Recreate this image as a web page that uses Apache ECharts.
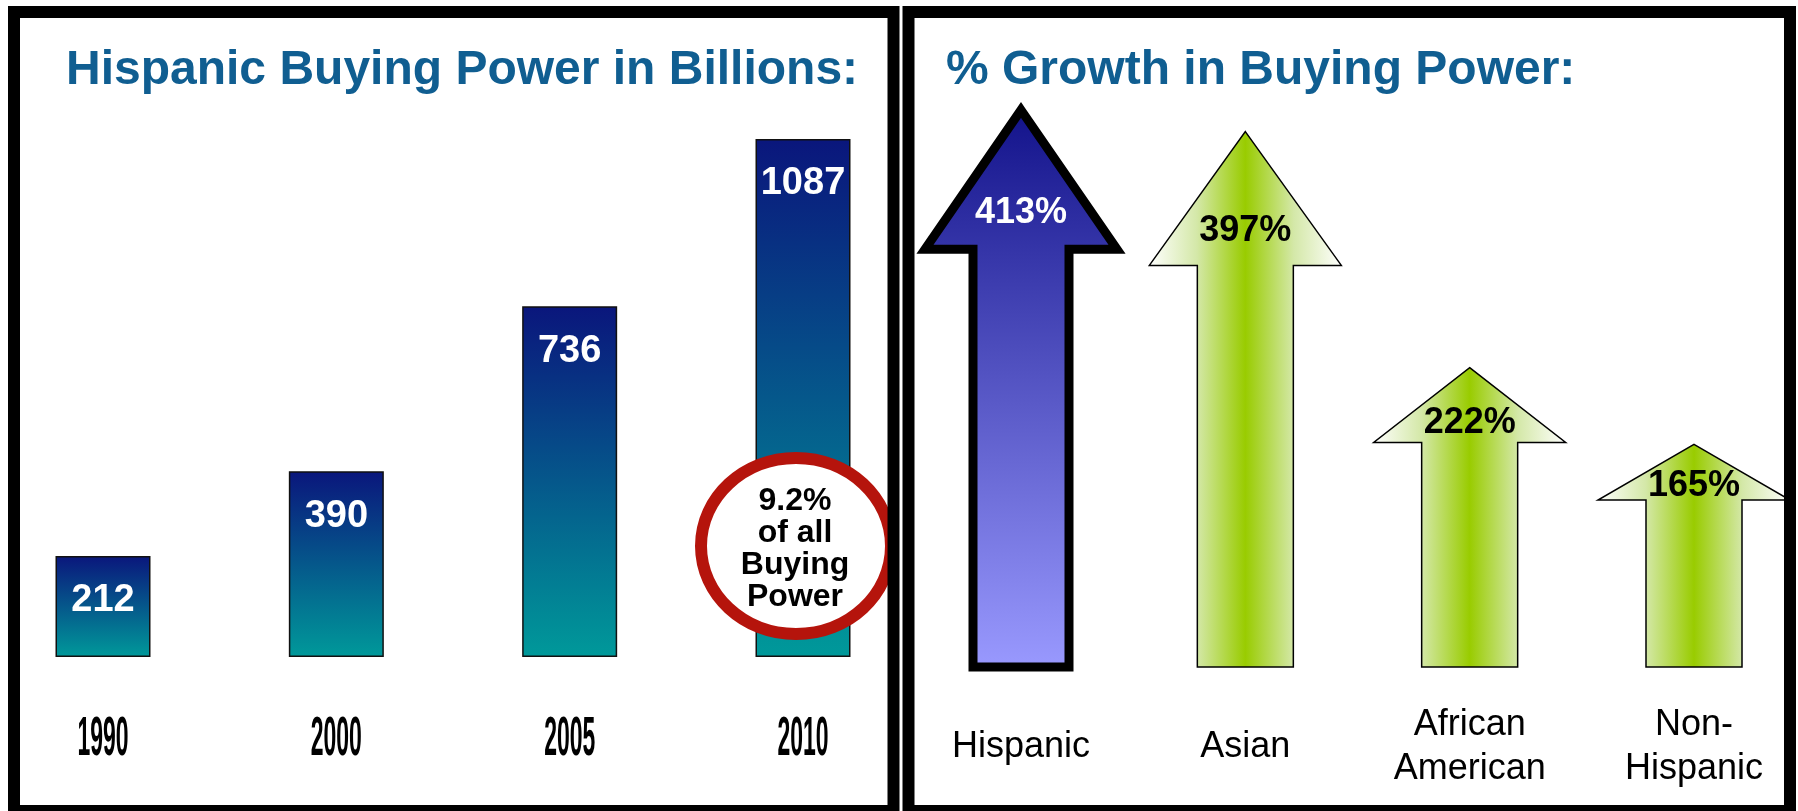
<!DOCTYPE html>
<html><head><meta charset="utf-8">
<script src="https://cdn.jsdelivr.net/npm/echarts@6/dist/echarts.min.js"></script>
<style>html,body{margin:0;padding:0;background:#fff}#c{width:1798px;height:811px}</style>
</head><body><div id="c"></div>
<script>
const years = ['1990', '2000', '2005', '2010'];
const buyingPower = [212, 390, 736, 1087];
const groups = ['Hispanic', 'Asian', 'African\nAmerican', 'Non-\nHispanic'];
const growthPct = [413, 397, 222, 165];
const leftTitle = 'Hispanic Buying Power in Billions:';
const rightTitle = '% Growth in Buying Power:';
const calloutLines = ['9.2%', 'of all', 'Buying', 'Power'];

const FONT = "'Liberation Sans', Arial, sans-serif";
const chart = echarts.init(document.getElementById('c'), null, {renderer: 'canvas'});

const greenFill = {type: 'linear', x: 0, y: 0, x2: 1, y2: 0, colorStops: [
  {offset: 0, color: '#ffffff'}, {offset: 0.25, color: '#d4e8a8'}, {offset: 0.5, color: '#99cc00'},
  {offset: 0.75, color: '#d4e8a8'}, {offset: 1, color: '#ffffff'}]};
const blueFill = {type: 'linear', x: 0, y: 0, x2: 0, y2: 1, colorStops: [
  {offset: 0, color: '#12128a'}, {offset: 1, color: '#9a9aff'}]};

function arrowItem(params, api) {
  const i = api.value(0);
  const v = api.value(1);
  const tip = api.coord([i, v]);
  const base = api.coord([i, 0]);
  const cx = tip[0];
  const len = base[1] - tip[1];
  const headH = len * 0.25;
  const shaftHalf = 48, headHalf = 96;
  const hb = tip[1] + headH;
  const pts = [[cx, tip[1]], [cx + headHalf, hb], [cx + shaftHalf, hb], [cx + shaftHalf, base[1]],
               [cx - shaftHalf, base[1]], [cx - shaftHalf, hb], [cx - headHalf, hb]];
  const lead = params.dataIndex === 0;
  return {type: 'group', children: [
    {type: 'polygon', shape: {points: pts},
     style: {fill: lead ? blueFill : greenFill, stroke: '#000', lineWidth: lead ? 9 : 1.5, lineJoin: 'miter', miterLimit: 10}},
    {type: 'text', style: {text: v + '%', x: cx, y: tip[1] + headH * 0.74, align: 'center', verticalAlign: 'middle',
     fill: lead ? '#ffffff' : '#000000', fontSize: 36, fontWeight: 'bold', fontFamily: FONT}}
  ]};
}

const titleStyle = {color: '#105e91', fontSize: 48, fontWeight: 'bold', fontFamily: FONT};

const option = {
  backgroundColor: '#ffffff',
  animation: false,
  title: [
    {text: leftTitle, left: 66, top: 47, padding: 0, textStyle: titleStyle},
    {text: rightTitle, left: 946, top: 47, padding: 0, textStyle: titleStyle}
  ],
  grid: [
    {left: 103, top: 139, width: 700, height: 518},
    {left: 1021, top: 110, width: 673, height: 557}
  ],
  xAxis: [
    {gridIndex: 0, type: 'category', data: years, boundaryGap: false, axisLine: {show: false}, axisTick: {show: false},
     axisLabel: {interval: 0, margin: 83, verticalAlign: 'middle', color: '#000', fontSize: 56, fontWeight: 'bold', fontFamily: FONT}},
    {gridIndex: 1, type: 'category', data: groups, boundaryGap: false, axisLine: {show: false}, axisTick: {show: false},
     axisLabel: {interval: 0, margin: 80, verticalAlign: 'middle', color: '#000', fontSize: 36, lineHeight: 44, fontFamily: FONT}}
  ],
  yAxis: [
    {gridIndex: 0, type: 'value', min: 0, max: 'dataMax', show: false},
    {gridIndex: 1, type: 'value', min: 0, max: 'dataMax', show: false}
  ],
  series: [
    {type: 'bar', xAxisIndex: 0, yAxisIndex: 0, data: buyingPower, barWidth: 95,
     itemStyle: {color: {type: 'linear', x: 0, y: 0, x2: 0, y2: 1, colorStops: [
       {offset: 0, color: '#0a167c'}, {offset: 1, color: '#00999a'}]}, borderColor: '#111', borderWidth: 1.5},
     label: {show: true, position: 'insideTop', distance: 26, color: '#fff', fontSize: 38, fontWeight: 'bold', fontFamily: FONT}},
    {type: 'custom', xAxisIndex: 1, yAxisIndex: 1, renderItem: arrowItem, clip: false,
     data: growthPct.map((v, i) => [i, v]), encode: {x: 0, y: 1}, z: 3}
  ],
  graphic: [
    {type: 'ellipse', z: 50, shape: {cx: 796, cy: 546, rx: 95, ry: 88},
     style: {fill: '#ffffff', stroke: '#b5140c', lineWidth: 12}},
    {type: 'text', z: 51, x: 795, y: 549,
     style: {text: calloutLines.join('\n'), align: 'center', verticalAlign: 'middle', fill: '#000',
             fontSize: 32, fontWeight: 'bold', fontFamily: FONT, lineHeight: 32}},
    {type: 'rect', z: 100, shape: {x: 14, y: 12, width: 879.5, height: 799},
     style: {fill: 'none', stroke: '#000', lineWidth: 12}},
    {type: 'rect', z: 100, shape: {x: 908.5, y: 12, width: 881.5, height: 799},
     style: {fill: 'none', stroke: '#000', lineWidth: 12}}
  ]
};
chart.setOption(option);

// The year tick labels in the original use a very condensed face; squeeze those axis labels horizontally.
function squeezeYearLabels() {
  const zr = chart.getZr();
  let changed = false;
  zr.storage.getRoots().forEach(function (root) {
    const visit = function (el) {
      if (el.type === 'text' && el.style && years.indexOf(String(el.style.text)) >= 0 && el.scaleX !== 0.41) {
        el.scaleX = 0.41;
        el.markRedraw();
        changed = true;
      }
    };
    if (root.traverse) root.traverse(visit); else visit(root);
  });
  if (changed) zr.refreshImmediately();
}
try { squeezeYearLabels(); } catch (e) {}
chart.on('finished', function () { try { squeezeYearLabels(); } catch (e) {} });
</script>
</body></html>
